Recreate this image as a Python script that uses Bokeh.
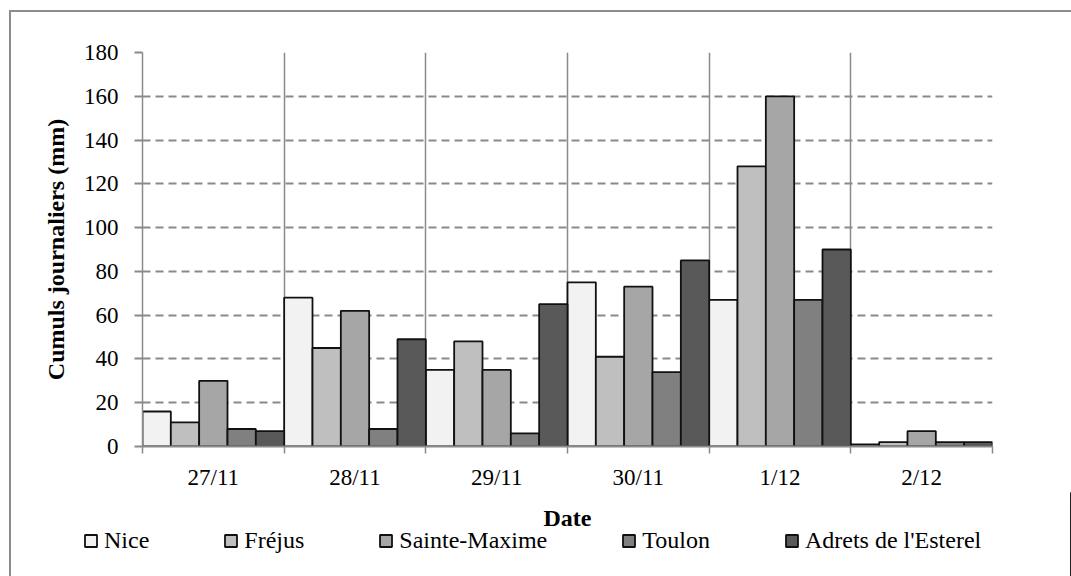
from bokeh.plotting import figure
from bokeh.models import Range1d, FixedTicker, Legend, LegendItem, Label
from bokeh.layouts import column
from bokeh.embed import file_html
from bokeh.resources import INLINE

dates = ["27/11", "28/11", "29/11", "30/11", "1/12", "2/12"]
stations = ["Nice", "Fréjus", "Sainte-Maxime", "Toulon", "Adrets de l'Esterel"]
nice = [16, 68, 35, 75, 67, 1]
frejus = [11, 45, 48, 41, 128, 2]
sainte_maxime = [30, 62, 35, 73, 160, 7]
toulon = [8, 8, 6, 34, 67, 2]
adrets = [7, 49, 65, 85, 90, 2]
series = [nice, frejus, sainte_maxime, toulon, adrets]
colors = ["#f2f2f2", "#bfbfbf", "#a6a6a6", "#808080", "#595959"]
y_ticks = list(range(0, 181, 20))
x_title = "Date"
y_title = "Cumuls journaliers (mm)"

FONT = "Liberation Serif"
GRAY = "#8a8a8a"
W = 1060

p = figure(width=W, height=480, output_backend="svg", toolbar_location=None,
           x_range=Range1d(0, len(dates)), y_range=Range1d(0, 180),
           min_border_left=131, min_border_right=79, min_border_top=40, min_border_bottom=46)
p.outline_line_color = None

n = len(stations)
for k, (name, vals, col) in enumerate(zip(stations, series, colors)):
    xs = [i + (k + 0.5) / n for i in range(len(dates))]
    p.vbar(x=xs, top=vals, width=1.0 / n, bottom=0, fill_color=col,
           line_color="#111111", line_width=1.8)

# grids
p.xgrid.ticker = FixedTicker(ticks=list(range(0, len(dates) + 1)))
p.xgrid.grid_line_color = GRAY
p.xgrid.grid_line_width = 1.5
p.ygrid.ticker = FixedTicker(ticks=y_ticks)
p.ygrid.grid_line_color = GRAY
p.ygrid.grid_line_width = 2
p.ygrid.grid_line_dash = "8 5"

# x axis
xa = p.xaxis[0]
xa.ticker = FixedTicker(ticks=[i + 0.5 for i in range(len(dates))],
                        minor_ticks=list(range(0, len(dates) + 1)))
xa.major_label_overrides = {i + 0.5: d for i, d in enumerate(dates)}
xa.major_tick_out = 0
xa.major_tick_in = 0
xa.minor_tick_out = 7
xa.minor_tick_in = 0
xa.minor_tick_line_color = GRAY
xa.minor_tick_line_width = 1.5
xa.axis_line_color = GRAY
xa.axis_line_width = 2
xa.major_label_text_font = FONT
xa.major_label_text_font_size = "23px"
xa.major_label_text_color = "black"
xa.major_label_standoff = 11

# y axis
ya = p.yaxis[0]
ya.ticker = FixedTicker(ticks=y_ticks)
ya.major_tick_out = 8
ya.major_tick_in = 0
ya.minor_tick_out = 0
ya.minor_tick_in = 0
ya.major_tick_line_color = GRAY
ya.major_tick_line_width = 2
ya.axis_line_color = GRAY
ya.axis_line_width = 1.5
ya.major_label_text_font = FONT
ya.major_label_text_font_size = "23px"
ya.major_label_text_color = "black"
ya.major_label_standoff = 16
ya.axis_label = y_title
ya.axis_label_text_font = FONT
ya.axis_label_text_font_size = "24px"
ya.axis_label_text_font_style = "bold"
ya.axis_label_text_color = "black"
ya.axis_label_standoff = 12

# strip below the chart: x-axis title and legend
lg = figure(width=W, height=84, output_backend="svg", toolbar_location=None,
            x_range=Range1d(0, 1), y_range=Range1d(0, 1),
            x_axis_location=None, y_axis_location=None,
            min_border_left=0, min_border_right=0, min_border_top=0, min_border_bottom=0)
lg.outline_line_color = None
lg.grid.visible = False
for fig in (p, lg):
    try:
        fig.frame_align = False
    except Exception:
        pass

lg.add_layout(Label(x=556, y=59, x_units="screen", y_units="screen", text=x_title,
                    text_align="center", text_baseline="middle", text_font=FONT,
                    text_font_size="24px", text_font_style="bold", text_color="black"))

items = []
for name, col in zip(stations, colors):
    r = lg.vbar(x=[10], top=[1], width=0.1, fill_color=col, line_color="#111111", line_width=1.8)
    items.append(LegendItem(label=name, renderers=[r]))
legend = Legend(items=items, orientation="horizontal", location=(72, 22),
                spacing=74, glyph_width=15, glyph_height=15, label_standoff=6,
                padding=0, margin=0, border_line_color=None, background_fill_alpha=0,
                label_text_font=FONT, label_text_font_size="24px",
                label_text_color="black")
lg.add_layout(legend, "center")

layout = column(p, lg, spacing=0)
layout.styles = {"margin-left": "9px", "margin-top": "10px",
                 "border-left": "2px solid #8c8c8c", "border-top": "2px solid #8c8c8c"}

open("out.html", "w").write(file_html(layout, INLINE))
